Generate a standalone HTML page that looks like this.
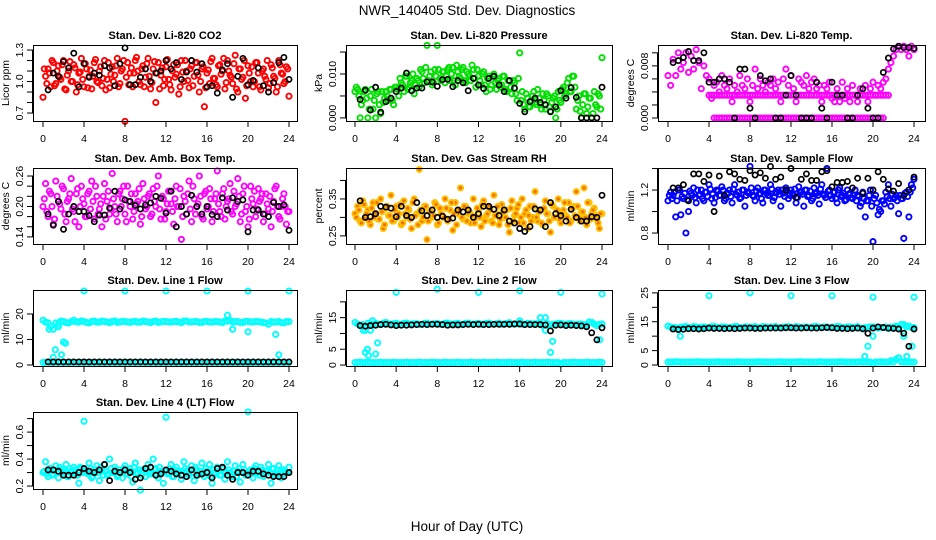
<!DOCTYPE html>
<html><head><meta charset="utf-8"><title>NWR_140405 Std. Dev. Diagnostics</title>
<style>
html,body{margin:0;padding:0;background:#fff;}
svg{display:block;font-family:"Liberation Sans",Arial,sans-serif;}
</style></head>
<body>
<svg id="chart" width="936" height="540" viewBox="0 0 936 540" xmlns="http://www.w3.org/2000/svg">
<rect x="0" y="0" width="936" height="540" fill="#fff"/>
<text x="467" y="15" text-anchor="middle" font-size="13.5">NWR_140405  Std. Dev. Diagnostics</text>
<text x="467" y="531" text-anchor="middle" font-size="13.5">Hour of Day (UTC)</text>
</svg>
<script>
// ---------- data ----------
const xTicks = [0,4,8,12,16,20,24];

const co2Red = [0.85,1.05,1.12,0.95,1.18,0.98,1.15,1.02,1.2,0.92,1.1,1.0,1.16,0.9,1.08,1.22,0.95,1.12,1.05,0.93,1.18,1.0,1.1,0.96,1.2,1.02,0.94,1.14,1.06,1.22,0.98,1.12,0.62,1.18,1.08,0.95,1.2,1.1,0.97,1.15,1.04,1.22,0.93,1.12,0.8,1.18,1.06,0.96,1.14,1.02,0.92,1.16,1.07,0.88,1.2,1.0,1.1,0.94,1.15,1.05,1.18,0.9,1.12,0.76,1.08,0.98,1.22,1.03,0.95,1.16,1.1,0.93,1.2,1.06,0.98,1.25,0.9,1.12,1.04,0.84,1.15,1.0,0.95,1.18,1.08,0.92,1.12,1.02,0.94,1.16,1.05,0.9,1.2,1.08,0.98,1.14,0.86];
const co2Red2 = [1.12,0.98,1.08,1.2,0.96,1.1,1.04,1.16,0.93,1.06,1.19,1.0,1.13,0.97,1.09,1.02,1.17,0.94,1.11,1.05,1.21,0.99,1.14,1.03,0.92,1.18,1.07,1.0,1.15,0.95,1.1,1.2,1.04,0.97,1.13,1.08,1.23,1.0,1.12,0.95,1.17,1.05,0.99,1.19,1.08,0.93,1.13,1.02,1.21,0.97,1.1,1.04,1.16,0.95,1.09,1.2,1.01,1.12,0.96,1.18,1.06,1.0,1.14,0.94,1.11,1.19,1.03,0.97,1.15,1.07,1.22,0.99,1.1,1.04,1.17,0.93,1.12,1.02,1.2,0.96,1.08,1.14,1.0,1.18,0.95,1.1,1.05,1.2,0.98,1.13,1.03,0.95,1.16,1.07,1.0,1.12];
const co2Black = [0.92,1.08,1.05,1.19,1.13,1.27,0.95,1.17,1.04,1.08,1.06,1.15,1.13,0.96,1.17,1.32,0.97,0.97,1.04,1.12,1.0,1.08,1.1,1.2,1.12,1.18,1.02,1.09,1.2,1.09,1.17,0.95,0.96,0.89,1.11,1.17,0.85,1.05,1.22,0.97,1.01,1.13,0.96,0.9,0.99,1.18,1.23,1.02];

const presGreen = [0.006,0.0065,0.0,0.004,0.0065,0.0,0.005,0.002,0.0,0.006,0.001,0.0035,0.006,0.004,0.0065,0.003,0.007,0.005,0.008,0.006,0.0095,0.007,0.0085,0.0055,0.009,0.007,0.0105,0.008,0.0165,0.0095,0.0075,0.011,0.0165,0.009,0.0105,0.008,0.011,0.0085,0.0115,0.0075,0.0105,0.009,0.0115,0.008,0.01,0.0085,0.011,0.007,0.0095,0.0075,0.0105,0.006,0.0095,0.0075,0.01,0.0065,0.009,0.0075,0.0095,0.006,0.0085,0.0055,0.008,0.004,0.0148,0.006,0.002,0.0045,0.0025,0.005,0.0035,0.0065,0.003,0.0055,0.002,0.005,0.0015,0.0045,0.0,0.006,0.0035,0.007,0.0055,0.009,0.006,0.0095,0.002,0.005,0.0,0.0055,0.001,0.0045,0.0,0.006,0.0025,0.005,0.0137];
const presGreen2 = [0.007,0.005,0.003,0.006,0.0045,0.002,0.0065,0.004,0.0055,0.003,0.006,0.0045,0.005,0.0065,0.004,0.007,0.0065,0.009,0.0075,0.0095,0.0065,0.008,0.01,0.0075,0.0085,0.011,0.009,0.0115,0.0085,0.0105,0.008,0.0095,0.011,0.0085,0.0105,0.0095,0.0115,0.01,0.0085,0.012,0.0095,0.011,0.0085,0.0105,0.0095,0.012,0.009,0.011,0.0085,0.01,0.0075,0.009,0.0065,0.0095,0.008,0.0085,0.007,0.0095,0.0065,0.0085,0.007,0.0085,0.0055,0.009,0.004,0.003,0.0055,0.0025,0.004,0.006,0.003,0.0045,0.002,0.004,0.0055,0.0025,0.0035,0.005,0.002,0.004,0.0065,0.005,0.008,0.006,0.0095,0.007,0.004,0.0015,0.003,0.0055,0.0025,0.0045,0.001,0.003,0.0055,0.002];
const presBlack = [0.0042,0.0063,0.0018,0.007,0.0013,0.0037,0.0045,0.006,0.0068,0.0102,0.0062,0.0068,0.0068,0.0082,0.0082,0.0072,0.0087,0.0088,0.0071,0.0085,0.008,0.0062,0.009,0.0075,0.0067,0.009,0.0095,0.0075,0.006,0.0085,0.0068,0.0033,0.0014,0.0037,0.0045,0.0035,0.003,0.0014,0.0025,0.0062,0.0045,0.0069,0.0047,0.0,0.0,0.0,0.0,0.007];

const tempMag = [0.0065,0.005,0.009,0.0065,0.01,0.0075,0.0085,0.01,0.007,0.0095,0.0075,0.0105,0.0085,0.0045,0.008,0.0065,0.006,0.003,0.005,0.0055,0.004,0.0065,0.005,0.0045,0.006,0.0025,0.005,0.004,0.0065,0.005,0.0045,0.006,0.0025,0.005,0.0075,0.0045,0.006,0.005,0.004,0.0055,0.005,0.006,0.0045,0.0055,0.0025,0.006,0.0075,0.005,0.0065,0.0045,0.0025,0.006,0.0055,0.005,0.0065,0.0045,0.0055,0.006,0.0045,0.005,0.0025,0.005,0.0045,0.0055,0.003,0.0025,0.0045,0.0025,0.0055,0.003,0.0045,0.0025,0.005,0.0035,0.0025,0.0045,0.0035,0.005,0.0025,0.0045,0.0055,0.0035,0.005,0.0045,0.0055,0.006,0.0075,0.0085,0.0095,0.0105,0.011,0.0105,0.011,0.0105,0.0095,0.011,0.0105];
const tempBand = [0.0035,0.0035,0.0035,0.0035,0.0035,0.0035,0.0035,0.0035,0.0035,0.0035,0.0035,0.0035,0.0035,0.0035,0.0035,0.0035,0.0035,0.0035,0.0035,0.0035,0.0035,0.0035,0.0035,0.0035,0.0035,0.0035,0.0035,0.0035,0.0035,0.0035,0.0035,0.0035,0.0035,0.0035,0.0035,0.0035];
const tempBand2 = [0.0035,0.0035,0.0035,0.0035,0.0035,0.0035,0.0035,0.0035,0.0035,0.0035,0.0035,0.0035,0.0035,0.0035,0.0035,0.0035,0.0035,0.0035,0.0035,0.0035,0.0035,0.0035,0.0035,0.0035,0.0035,0.0035,0.0035,0.0035,0.0035,0.0035,0.0035,0.0035,0.0035,0.0035,0.0035];
const tempZero = [0,0,0,0,0,0,0,0,0,0,0,0,0,0,0,0,0,0,0,0,0,0,0,0,0,0,0,0,0,0,0,0,0,0];
const tempZero2 = [0,0,0,0,0,0,0,0,0,0,0,0,0,0,0,0,0,0,0,0,0,0,0,0,0,0,0,0,0,0,0,0,0];
const tempBlack = [0.0085,0.0088,0.0093,0.0102,0.0088,0.0088,0.01,0.0055,0.0055,0.006,0.006,0.0055,0.0,0.0075,0.0075,0.0015,0.0,0.0065,0.0057,0.006,0.0,0.0,0.0035,0.0065,0.0035,0.0,0.0,0.0,0.0055,0.0015,0.0,0.0055,0.0035,0.0035,0.0,0.0,0.0035,0.0045,0.0015,0.0,0.0,0.007,0.0092,0.0106,0.011,0.0108,0.0108,0.0107];

const boxMag = [0.20,0.245,0.18,0.225,0.165,0.25,0.21,0.195,0.235,0.17,0.215,0.255,0.19,0.225,0.16,0.24,0.205,0.18,0.23,0.25,0.175,0.22,0.195,0.16,0.245,0.21,0.185,0.265,0.2,0.17,0.23,0.215,0.185,0.24,0.2,0.175,0.225,0.21,0.165,0.245,0.195,0.22,0.18,0.235,0.2,0.26,0.175,0.215,0.19,0.23,0.205,0.165,0.24,0.2,0.135,0.22,0.185,0.25,0.17,0.215,0.2,0.26,0.18,0.225,0.195,0.235,0.17,0.215,0.27,0.19,0.225,0.175,0.21,0.245,0.185,0.2,0.255,0.17,0.225,0.19,0.16,0.24,0.205,0.18,0.235,0.215,0.17,0.225,0.195,0.16,0.21,0.24,0.18,0.2,0.225,0.165,0.19];
const boxMag2 = [0.215,0.19,0.23,0.2,0.175,0.22,0.205,0.24,0.185,0.21,0.225,0.195,0.17,0.235,0.2,0.215,0.18,0.225,0.195,0.21,0.24,0.185,0.205,0.22,0.175,0.23,0.195,0.215,0.185,0.225,0.2,0.24,0.17,0.21,0.225,0.19,0.205,0.235,0.18,0.215,0.2,0.225,0.185,0.21,0.24,0.195,0.22,0.175,0.205,0.23,0.19,0.215,0.2,0.235,0.18,0.21,0.225,0.195,0.24,0.185,0.205,0.22,0.175,0.23,0.2,0.215,0.19,0.225,0.205,0.18,0.235,0.2,0.215,0.19,0.23,0.205,0.22,0.185,0.24,0.2,0.175,0.215,0.23,0.195,0.21,0.225,0.185,0.205,0.22,0.19,0.235,0.2,0.175,0.215,0.2,0.19];
const boxBlack = [0.185,0.163,0.21,0.155,0.185,0.2,0.19,0.19,0.182,0.17,0.183,0.183,0.197,0.23,0.195,0.213,0.21,0.202,0.195,0.203,0.207,0.22,0.216,0.187,0.23,0.16,0.2,0.185,0.222,0.2,0.185,0.2,0.184,0.18,0.217,0.193,0.217,0.21,0.213,0.15,0.193,0.193,0.185,0.18,0.208,0.2,0.203,0.153];

const rhOrange = [0.31,0.33,0.29,0.345,0.3,0.32,0.28,0.34,0.31,0.295,0.35,0.27,0.325,0.305,0.36,0.29,0.33,0.31,0.28,0.345,0.3,0.32,0.27,0.35,0.31,0.43,0.29,0.33,0.24,0.315,0.3,0.34,0.28,0.325,0.305,0.35,0.29,0.32,0.265,0.34,0.31,0.38,0.295,0.33,0.31,0.285,0.35,0.3,0.32,0.275,0.345,0.305,0.33,0.29,0.36,0.31,0.28,0.335,0.3,0.32,0.26,0.345,0.305,0.325,0.285,0.35,0.31,0.27,0.33,0.3,0.37,0.29,0.32,0.28,0.345,0.31,0.26,0.33,0.3,0.35,0.285,0.32,0.305,0.34,0.29,0.33,0.37,0.3,0.315,0.38,0.28,0.34,0.31,0.325,0.295,0.27,0.31];
const rhOrange2 = [0.3,0.32,0.285,0.335,0.31,0.29,0.325,0.3,0.34,0.295,0.315,0.28,0.33,0.305,0.29,0.32,0.3,0.335,0.285,0.31,0.325,0.295,0.34,0.305,0.28,0.32,0.3,0.33,0.29,0.315,0.305,0.335,0.285,0.31,0.3,0.325,0.295,0.34,0.31,0.28,0.32,0.3,0.33,0.29,0.315,0.305,0.285,0.325,0.3,0.335,0.29,0.31,0.32,0.285,0.305,0.33,0.295,0.315,0.3,0.28,0.325,0.29,0.31,0.335,0.3,0.285,0.32,0.305,0.29,0.33,0.3,0.315,0.285,0.325,0.31,0.29,0.335,0.3,0.32,0.295,0.31,0.34,0.3,0.285,0.325,0.305,0.33,0.29,0.315,0.3,0.34,0.295,0.32,0.305,0.285,0.31];
const rhBlack = [0.345,0.3,0.302,0.31,0.33,0.328,0.325,0.302,0.33,0.305,0.3,0.34,0.318,0.305,0.32,0.3,0.303,0.295,0.298,0.32,0.315,0.32,0.3,0.31,0.33,0.33,0.322,0.305,0.32,0.29,0.285,0.27,0.262,0.275,0.323,0.32,0.275,0.34,0.31,0.305,0.29,0.322,0.3,0.29,0.29,0.302,0.3,0.36];

const flowBlue = [1.1,1.18,1.15,0.95,1.2,0.97,1.12,0.8,1.0,1.17,1.22,1.08,1.15,1.2,1.1,1.18,1.25,1.12,1.08,1.2,1.15,1.23,1.1,1.17,1.2,1.08,1.25,1.15,1.12,1.2,1.05,1.18,1.42,1.15,1.1,1.22,1.17,1.08,1.2,1.15,1.25,1.1,1.18,1.2,1.05,1.17,1.22,1.12,1.2,1.15,1.08,1.23,1.18,1.05,1.2,1.15,1.1,1.22,1.17,1.07,1.25,1.15,1.4,1.2,1.12,1.18,1.08,1.22,1.15,1.1,1.2,1.17,1.12,1.2,1.15,1.05,1.18,0.95,1.1,1.2,0.72,1.15,0.97,1.0,1.1,1.18,1.25,1.05,1.12,1.15,0.98,1.12,0.75,1.18,0.95,1.25,1.3];
const flowBlue2 = [1.15,1.12,1.18,1.1,1.2,1.14,1.17,1.11,1.19,1.15,1.13,1.2,1.16,1.12,1.18,1.14,1.21,1.16,1.13,1.19,1.15,1.2,1.12,1.17,1.14,1.21,1.16,1.18,1.13,1.2,1.15,1.17,1.22,1.14,1.19,1.16,1.12,1.2,1.17,1.15,1.21,1.13,1.18,1.16,1.2,1.14,1.19,1.15,1.17,1.21,1.13,1.18,1.16,1.2,1.14,1.19,1.12,1.17,1.15,1.21,1.16,1.13,1.19,1.15,1.18,1.12,1.2,1.14,1.17,1.11,1.16,1.13,1.15,1.1,1.14,1.08,1.12,1.1,1.15,1.05,1.12,1.08,1.02,1.1,1.07,1.14,1.12,1.16,1.13,1.1,1.15,1.12,1.17,1.14,1.18,1.22];
const flowBlack = [1.22,1.22,1.25,1.1,1.35,1.35,1.28,1.34,1.0,1.33,1.15,1.37,1.35,1.3,1.29,1.38,1.34,1.36,1.31,1.42,1.3,1.32,1.2,1.4,1.13,1.3,1.35,1.29,1.29,1.37,1.38,1.23,1.27,1.27,1.28,1.22,1.31,1.17,1.31,1.2,1.37,1.3,1.21,1.19,1.26,1.15,1.2,1.32];

const l1CyanHigh = [17.5,16.5,14,16,17,16.5,17.5,16.8,17,16.5,17.2,16.8,17,16.6,17.3,16.9,17,16.7,17.1,16.8,17,16.6,17.2,16.9,17,16.8,17.1,16.6,17.2,16.9,17,16.7,17.1,16.8,17,16.6,17.2,16.8,17,16.7,17.1,16.9,17,16.6,16,16.8,17,16.5,17];
const l1CyanHigh2 = [16.8,15,16.5,17.2,16.6,17,16.9,17.3,16.7,17,16.8,17.2,16.9,17,16.7,17.1,16.9,17,16.8,17.2,16.9,17,16.7,17.1,16.9,17,16.8,17.2,16.9,17,16.7,17.1,16.9,17,16.8,17.2,17.5,17,16.7,17.1,16.9,17,16.8,16.5,17,16.9,16.6,17];
const l1CyanLow = [1,1.2,1,1,1,1,1.1,1,1,1,1,1,1,1,1.1,1,1,1,1,1,1,1,1,1,1,1,1,1,1,1,1,1,1,1,1,1,1,1,1,1,0.5,1,1,1,1,1,1,1,1];
const l1CyanLow2 = [1,1,1.1,1,1,1,1,1,1,1,1,1,1,1,1,1,1,1,1,1,1,1,1,1,1,1,1,1,1,1,1,1,1,1,1,1,1,1,1,1,1,1,1,1,1,1,1,1];
const l1OutHours = [4,8,12,16,20,24,0.6,1,1.2,1.5,1.8,2,2.2,18,18.5,20,22.7,23];
const l1OutVals = [29,29,29,29,29,29,14,3,6,15,4,9,8.5,19.5,14,13,12,4];
const l1BlackLow = [1.2,1.2,1.2,1.2,1.2,1.2,1.2,1.2,1.2,1.2,1.2,1.2,1.2,1.2,1.2,1.2,1.2,1.2,1.2,1.2,1.2,1.2,1.2,1.2,1.2,1.2,1.2,1.2,1.2,1.2,1.2,1.2,1.2,1.2,1.2,1.2,1.2,1.2,1.2,1.2,1.2,1.2,1.2,1.2,1.2,1.2,1.2,1.2];

const l2CyanHigh = [13.5,12.5,11,13,13.2,12.8,13.5,13,13.2,12.8,13.3,13,13.1,12.8,13.3,13,13.2,12.9,13.3,13,13.2,12.9,13.3,13,13.2,13,13.3,12.9,13.3,13,13.4,13,13.3,12.9,13.2,13.1,13.3,15,12.6,13,13.2,12.9,13.1,12.8,13,12.7,13.5,12.5,13];
const l2CyanHigh2 = [13,12.8,13.2,13,12.9,13.3,13,13.1,12.9,13.2,13,13.1,12.9,13.2,13,13.1,12.9,13.2,13,13.1,12.9,13.2,13,13.1,12.9,13.2,13,13.1,12.9,13.2,13,13.1,12.9,13.2,13,13.1,12.5,13,12.9,13.2,13,13.1,12.9,13,12.8,13.6,13,12.9];
const l2CyanLow = [0.8,0.9,0.8,0.8,0.8,0.9,0.8,0.8,0.8,0.8,0.9,0.8,0.8,0.8,0.8,0.9,0.8,0.8,0.8,0.8,0.9,0.8,0.8,0.8,0.8,0.9,0.8,0.8,0.8,0.8,0.9,0.8,0.8,0.8,0.8,0.9,0.8,0.8,0.8,0.8,0.3,0.8,0.8,0.8,0.8,0.9,0.8,0.8,0.8];
const l2CyanLow2 = [0.8,0.8,0.9,0.8,0.8,0.8,0.8,0.9,0.8,0.8,0.8,0.8,0.9,0.8,0.8,0.8,0.8,0.9,0.8,0.8,0.8,0.8,0.9,0.8,0.8,0.8,0.8,0.9,0.8,0.8,0.8,0.8,0.9,0.8,0.8,0.8,0.8,0.9,0.8,0.8,0.8,0.8,0.9,0.8,0.8,0.8,0.8,0.9];
const l2OutHours = [4,8,12,16,20,24,0.8,1,1.2,1.3,1.5,1.7,2,2.2,16,18,18.5,19,19.2,23.8];
const l2OutVals = [23,24,23,23.5,23,22.5,11,4,5,3,11,14,3.5,7,14,15,11,4,7.5,8];
const l2Black = [12.5,12.3,12.5,12.6,12.8,12.9,12.7,12.5,12.6,12.6,12.7,12.8,12.9,12.8,12.9,12.9,12.8,12.6,12.7,12.7,12.8,12.9,12.8,12.9,12.8,12.8,12.9,12.9,12.9,12.9,13,13,12.8,12.8,12.8,12.8,12.7,10.8,12.6,12.7,12.5,12.6,12.5,12.4,12.1,10.2,8,11.8];

const l3CyanHigh = [13.5,13,12.5,13.2,13,13.3,13,13.2,13,13.3,13,13.2,13,13.3,13,13.2,13.1,13.3,13,13.2,13.1,13.3,13,13.2,13.1,13.3,13,13.2,13.1,13.3,13,13.2,13.1,13.3,13,13.2,13.1,13.3,12.5,13,13.2,12.8,13,12.6,13.2,13,14,13.5,13];
const l3CyanHigh2 = [13.2,13,13.1,13.3,13,13.2,13.1,13,13.3,13.1,13.2,13,13.1,13.3,13,13.2,13.1,13,13.3,13.1,13.2,13,13.1,13.3,13,13.2,13.1,13,13.3,13.1,13.2,13,13.1,13.3,13,13.2,13.1,12.8,13,13.2,13.1,13,13.2,13.1,13.5,14,13.2,13];
const l3CyanLow = [1,1,1.1,1,1,1,1.1,1,1,1,1.1,1,1,1,1.1,1,1,1,1.1,1,1,1,1.1,1,1,1,1.1,1,1,1,1.1,1,1,1,1.1,1,1,1,1,1,0.4,1,1,1,1,2.5,1,1,1];
const l3CyanLow2 = [1,1.1,1,1,1,1.1,1,1,1,1.1,1,1,1,1.1,1,1,1,1.1,1,1,1,1.1,1,1,1,1.1,1,1,1,1.1,1,1,1,1.1,1,1,1,1.1,1,1,1,1.1,1,1.5,2,1.1,1,1];
const l3OutHours = [4,8,12,16,20,24,1.2,19.2,19.5,20,23,23.3,23.8];
const l3OutVals = [24,25,24,24,23.5,23.5,10,3,6.5,10,10,3,6.5];
const l3Black = [12.5,12.3,12.4,12.6,12.6,12.5,12.6,12.8,12.7,12.7,12.6,12.7,12.6,12.7,12.8,12.8,12.7,12.7,12.8,12.8,12.8,12.8,12.9,12.9,12.8,12.8,12.9,12.8,12.8,12.9,13,12.9,12.7,12.7,12.6,12.7,12.8,12.6,11,12.8,13.2,13,12.8,12.7,12.5,11,6.5,12.5];

const l4Cyan = [0.3,0.38,0.27,0.33,0.29,0.35,0.26,0.32,0.3,0.36,0.27,0.31,0.34,0.28,0.22,0.33,0.68,0.3,0.37,0.26,0.32,0.35,0.24,0.31,0.36,0.28,0.4,0.3,0.34,0.27,0.32,0.26,0.35,0.29,0.33,0.23,0.37,0.3,0.17,0.32,0.27,0.36,0.29,0.4,0.33,0.26,0.31,0.22,0.71,0.3,0.36,0.27,0.34,0.3,0.25,0.38,0.31,0.28,0.35,0.24,0.32,0.29,0.37,0.27,0.31,0.36,0.22,0.3,0.34,0.28,0.33,0.25,0.38,0.3,0.27,0.35,0.31,0.23,0.36,0.28,0.75,0.32,0.26,0.35,0.3,0.34,0.27,0.31,0.36,0.22,0.33,0.29,0.35,0.26,0.32,0.3,0.34];
const l4Cyan2 = [0.31,0.29,0.33,0.28,0.32,0.3,0.34,0.29,0.31,0.27,0.33,0.3,0.32,0.28,0.34,0.3,0.31,0.29,0.33,0.27,0.32,0.3,0.34,0.28,0.31,0.29,0.33,0.3,0.32,0.28,0.3,0.33,0.29,0.31,0.27,0.34,0.3,0.32,0.28,0.31,0.33,0.29,0.3,0.32,0.28,0.34,0.3,0.31,0.29,0.33,0.27,0.32,0.3,0.31,0.28,0.33,0.29,0.32,0.3,0.34,0.28,0.31,0.29,0.33,0.3,0.27,0.32,0.29,0.31,0.28,0.33,0.3,0.32,0.29,0.31,0.27,0.33,0.3,0.32,0.28,0.31,0.29,0.33,0.3,0.28,0.32,0.29,0.31,0.3,0.33,0.28,0.32,0.3,0.29,0.31,0.3];
const l4Black = [0.32,0.32,0.31,0.28,0.28,0.28,0.3,0.33,0.31,0.3,0.32,0.36,0.24,0.31,0.3,0.32,0.3,0.25,0.26,0.33,0.34,0.28,0.29,0.32,0.31,0.29,0.28,0.27,0.32,0.28,0.29,0.3,0.26,0.33,0.34,0.28,0.25,0.3,0.3,0.28,0.31,0.31,0.29,0.28,0.27,0.27,0.27,0.3];

// ---------- layout ----------
const NS = "http://www.w3.org/2000/svg";
const svg = document.getElementById('chart');
const cols = [{l:33,r:297,x0:43,x24:289},{l:346,r:612,x0:355,x24:602},{l:658,r:925,x0:668,x24:914}];
const rows = [{t:45,b:121},{t:168,b:244},{t:290,b:366},{t:412,b:489}];
function hoursFrom(start, step, n){ const a=[]; for(let i=0;i<n;i++) a.push(start+i*step); return a; }
function el(tag, attrs, parent){ const e=document.createElementNS(NS,tag); for(const k in attrs) e.setAttribute(k,attrs[k]); (parent||svg).appendChild(e); return e; }

const RED={s:'#ff0000'},GRN={s:'#00e000'},MAG={s:'#ff00ff'},ORG={s:'#ffc000',f:'#f07000'},BLU={s:'#0000ff'},CYN={s:'#00ffff'},BLK={s:'#000000'};

const panels = [
 {name:'co2',title:'Stan. Dev. Li-820 CO2',ylab:'Licor ppm',c:0,r:0,ylim:[0.624,1.348],ticks:[0.7,0.8,0.9,1.0,1.1,1.2,1.3],labels:[[0.7,'0.7'],[1.0,'1.0'],[1.3,'1.3']],
  series:[[co2Red,0,0.25,null,RED],[co2Red2,0.125,0.25,null,RED],[co2Black,0.5,0.5,null,BLK]]},
 {name:'pressure',title:'Stan. Dev. Li-820 Pressure',ylab:'kPa',c:1,r:0,ylim:[-0.0007,0.0166],ticks:[0,0.005,0.01,0.015],labels:[[0,'0.000'],[0.01,'0.010']],
  series:[[presGreen,0,0.25,null,GRN],[presGreen2,0.125,0.25,null,GRN],[presBlack,0.5,0.5,null,BLK]]},
 {name:'temp',title:'Stan. Dev. Li-820 Temp.',ylab:'degrees C',c:2,r:0,ylim:[-0.00046,0.0112],ticks:[0,0.002,0.004,0.006,0.008,0.010],labels:[[0,'0.000'],[0.008,'0.008']],
  series:[[tempBand,4,0.5,null,MAG],[tempBand2,4.25,0.5,null,MAG],[tempZero,4.5,0.5,null,MAG],[tempZero2,4.75,0.5,null,MAG],[tempMag,0,0.25,null,MAG],[tempBlack,0.5,0.5,null,BLK]]},
 {name:'box-temp',title:'Stan. Dev. Amb. Box Temp.',ylab:'degrees C',c:0,r:1,ylim:[0.126,0.2758],ticks:[0.14,0.16,0.18,0.20,0.22,0.24,0.26],labels:[[0.14,'0.14'],[0.20,'0.20'],[0.26,'0.26']],
  series:[[boxMag,0,0.25,null,MAG],[boxMag2,0.125,0.25,null,MAG],[boxBlack,0.5,0.5,null,BLK]]},
 {name:'rh',title:'Stan. Dev. Gas Stream RH',ylab:'percent',c:1,r:1,ylim:[0.228,0.4338],ticks:[0.25,0.30,0.35,0.40],labels:[[0.25,'0.25'],[0.35,'0.35']],
  series:[[rhOrange,0,0.25,null,ORG],[rhOrange2,0.125,0.25,null,ORG],[rhBlack,0.5,0.5,null,BLK]]},
 {name:'sample-flow',title:'Stan. Dev. Sample Flow',ylab:'ml/min',c:2,r:1,ylim:[0.698,1.405],ticks:[0.8,1.0,1.2,1.4],labels:[[0.8,'0.8'],[1.2,'1.2']],
  series:[[flowBlue,0,0.25,null,BLU],[flowBlue2,0.125,0.25,null,BLU],[flowBlack,0.5,0.5,null,BLK]]},
 {name:'line1',title:'Stan. Dev. Line 1 Flow',ylab:'ml/min',c:0,r:2,ylim:[-0.4,29.4],ticks:[0,10,20],labels:[[0,'0'],[10,'10'],[20,'20']],
  series:[[l1CyanHigh,0,0.5,null,CYN],[l1CyanHigh2,0.25,0.5,null,CYN],[l1CyanLow,0,0.5,null,CYN],[l1CyanLow2,0.25,0.5,null,CYN],[l1OutVals,0,0,l1OutHours,CYN],[l1BlackLow,0.5,0.5,null,BLK]]},
 {name:'line2',title:'Stan. Dev. Line 2 Flow',ylab:'ml/min',c:1,r:2,ylim:[-0.3,23.75],ticks:[0,5,10,15,20],labels:[[0,'0'],[5,'5'],[15,'15']],
  series:[[l2CyanHigh,0,0.5,null,CYN],[l2CyanHigh2,0.25,0.5,null,CYN],[l2CyanLow,0,0.5,null,CYN],[l2CyanLow2,0.25,0.5,null,CYN],[l2OutVals,0,0,l2OutHours,CYN],[l2Black,0.5,0.5,null,BLK]]},
 {name:'line3',title:'Stan. Dev. Line 3 Flow',ylab:'ml/min',c:2,r:2,ylim:[-0.34,26.0],ticks:[0,5,10,15,20,25],labels:[[0,'0'],[5,'5'],[15,'15'],[25,'25']],
  series:[[l3CyanHigh,0,0.5,null,CYN],[l3CyanHigh2,0.25,0.5,null,CYN],[l3CyanLow,0,0.5,null,CYN],[l3CyanLow2,0.25,0.5,null,CYN],[l3OutVals,0,0,l3OutHours,CYN],[l3Black,0.5,0.5,null,BLK]]},
 {name:'line4',title:'Stan. Dev. Line 4 (LT) Flow',ylab:'ml/min',c:0,r:3,ylim:[0.178,0.749],ticks:[0.2,0.3,0.4,0.5,0.6,0.7],labels:[[0.2,'0.2'],[0.4,'0.4'],[0.6,'0.6']],
  series:[[l4Cyan,0,0.25,null,CYN],[l4Cyan2,0.125,0.25,null,CYN],[l4Black,0.5,0.5,null,BLK]]}
];

panels.forEach(p=>{
  const C=cols[p.c], R=rows[p.r];
  const g=el('g',{});
  
  
  const xs=h=>C.x0+(C.x24-C.x0)*h/24;
  const ys=v=>R.b-(v-p.ylim[0])/(p.ylim[1]-p.ylim[0])*(R.b-R.t);
  const cx=(C.l+C.r)/2;
  const t=el('text',{x:cx,y:R.t-6,'text-anchor':'middle','font-size':'11','font-weight':'bold'},g);
  t.textContent=p.title;
  
  
  const pg=el('g',{fill:'none'},g);
  
  
  p.series.forEach(s=>{
    const vals=s[0], hrs=s[3]||hoursFrom(s[1],s[2],vals.length), st=s[4];
    vals.forEach((v,i)=>{
      const c=el('circle',{cx:xs(hrs[i]).toFixed(1),cy:ys(v).toFixed(1),r:2.6,stroke:st.s,'stroke-width':st===BLK?1.7:1.9,fill:st.f||'none'},pg);
      
      
    });
  });
  const box=el('rect',{x:C.l+0.5,y:R.t+0.5,width:C.r-C.l,height:R.b-R.t,fill:'none',stroke:'#000','stroke-width':1},g);
  
  
  const xa=el('g',{},g);
  
  
  el('line',{x1:xs(0),x2:xs(24),y1:R.b+0.5,y2:R.b+0.5,stroke:'#000'},xa);
  xTicks.forEach(h=>{
    el('line',{x1:xs(h),x2:xs(h),y1:R.b,y2:R.b+6,stroke:'#000'},xa);
    const lt=el('text',{x:xs(h),y:R.b+21,'text-anchor':'middle','font-size':'10.5'},xa);
    lt.textContent=h;
    
    
  });
  const ya=el('g',{},g);
  
  
  p.ticks.forEach(v=>{
    el('line',{x1:C.l-6,x2:C.l,y1:ys(v),y2:ys(v),stroke:'#000'},ya);
  });
  el('line',{x1:C.l-0.5,x2:C.l-0.5,y1:ys(p.ticks[0]),y2:ys(p.ticks[p.ticks.length-1]),stroke:'#000'},ya);
  p.labels.forEach(([v,s])=>{
    const yy=ys(v), xx=C.l-10;
    const lt=el('text',{x:xx,y:yy,'text-anchor':'middle','font-size':'10.5',transform:`rotate(-90 ${xx} ${yy})`},ya);
    lt.textContent=s;
    
    
  });
  const yx=C.l-27, yy=(R.t+R.b)/2;
  const yt=el('text',{x:yx,y:yy,'text-anchor':'middle','dominant-baseline':'middle','font-size':'10.5',transform:`rotate(-90 ${yx} ${yy})`},g);
  yt.textContent=p.ylab;
  
  
});
</script>
</body></html>
